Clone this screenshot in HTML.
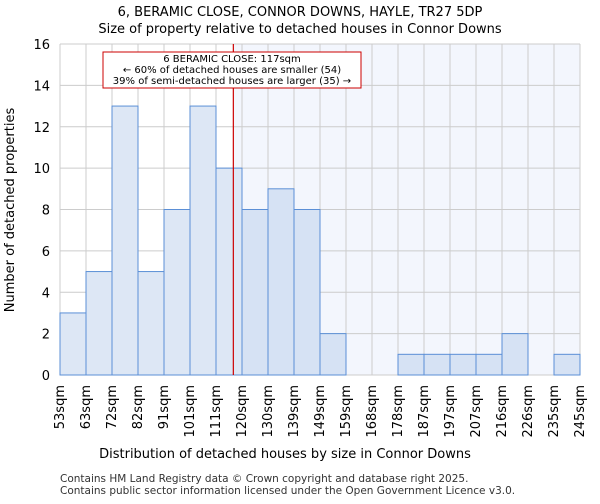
<!DOCTYPE html>
<html><head><meta charset="utf-8"><style>
body{margin:0;background:#fff;font-family:"DejaVu Sans","Liberation Sans",sans-serif}
</style></head><body>
<svg width="600" height="500" xmlns="http://www.w3.org/2000/svg">
<text x="300" y="16" text-anchor="middle" font-size="13">6, BERAMIC CLOSE, CONNOR DOWNS, HAYLE, TR27 5DP</text>
<text x="300" y="33" text-anchor="middle" font-size="13">Size of property relative to detached houses in Connor Downs</text>
<g id="plot"></g>
<text x="285" y="458" text-anchor="middle" font-size="13">Distribution of detached houses by size in Connor Downs</text>
<text x="14" y="210" text-anchor="middle" font-size="13" transform="rotate(-90 14 210)">Number of detached properties</text>
<text x="60" y="482" font-size="10.5" fill="#333">Contains HM Land Registry data © Crown copyright and database right 2025.</text>
<text x="60" y="494" font-size="10.5" fill="#333">Contains public sector information licensed under the Open Government Licence v3.0.</text>
</svg>
<script>
const categories=["53sqm","63sqm","72sqm","82sqm","91sqm","101sqm","111sqm","120sqm","130sqm","139sqm","149sqm","159sqm","168sqm","178sqm","187sqm","197sqm","207sqm","216sqm","226sqm","235sqm","245sqm"];
const counts=[3,5,13,5,8,13,10,8,9,8,2,0,0,1,1,1,1,2,0,1];
const yTicks=[0,2,4,6,8,10,12,14,16];
const markerValue=117;
const binEdges=[53,63,72,82,91,101,111,120,130,139,149,159,168,178,187,197,207,216,226,235,245];
const NS="http://www.w3.org/2000/svg";
const g=document.getElementById('plot');
const L=60,R=580,T=44,B=375,ymax=16;
const bw=(R-L)/counts.length;
const y=v=>B-v/ymax*(B-T);
const xi=i=>L+i*bw;
function xv(v){for(let i=0;i<binEdges.length-1;i++){if(v<=binEdges[i+1])return xi(i)+(v-binEdges[i])/(binEdges[i+1]-binEdges[i])*bw;}return R;}
function mk(t,a){const e=document.createElementNS(NS,t);for(const k in a)e.setAttribute(k,a[k]);g.appendChild(e);return e;}
const mx=xv(markerValue);
let e=mk('rect',{x:mx,y:T,width:R-mx,height:B-T,fill:'#f3f6fd'});


for(let i=0;i<=counts.length;i++){e=mk('line',{x1:xi(i),x2:xi(i),y1:T,y2:B,stroke:'#ccc','stroke-width':1});

}
yTicks.forEach(t=>{e=mk('line',{x1:L,x2:R,y1:y(t),y2:y(t),stroke:'#ccc','stroke-width':1});


e=mk('text',{x:L-10,y:y(t)+5,'text-anchor':'end','font-size':13});e.textContent=t;

});
counts.forEach((c,i)=>{if(c<=0)return;e=mk('rect',{x:xi(i),y:y(c),width:bw,height:B-y(c),fill:xi(i)>=mx?'#d6e2f4':'#dde7f5',stroke:'#5b8fd6','stroke-width':1});

});
categories.forEach((c,i)=>{const x=xi(i)+4,yy=B+10;e=mk('text',{x:x,y:yy,'text-anchor':'end','font-size':13,transform:`rotate(-90 ${x} ${yy})`});e.textContent=c;

});
e=mk('line',{x1:mx,x2:mx,y1:T,y2:B,stroke:'#c00','stroke-width':1.2});


e=mk('rect',{x:103,y:52,width:258,height:36,fill:'#fff',stroke:'#c00','stroke-width':1});


["6 BERAMIC CLOSE: 117sqm","← 60% of detached houses are smaller (54)","39% of semi-detached houses are larger (35) →"].forEach((s,i)=>{e=mk('text',{x:232,y:62+i*11,'text-anchor':'middle','font-size':10});e.textContent=s;

});
</script>
</body></html>
